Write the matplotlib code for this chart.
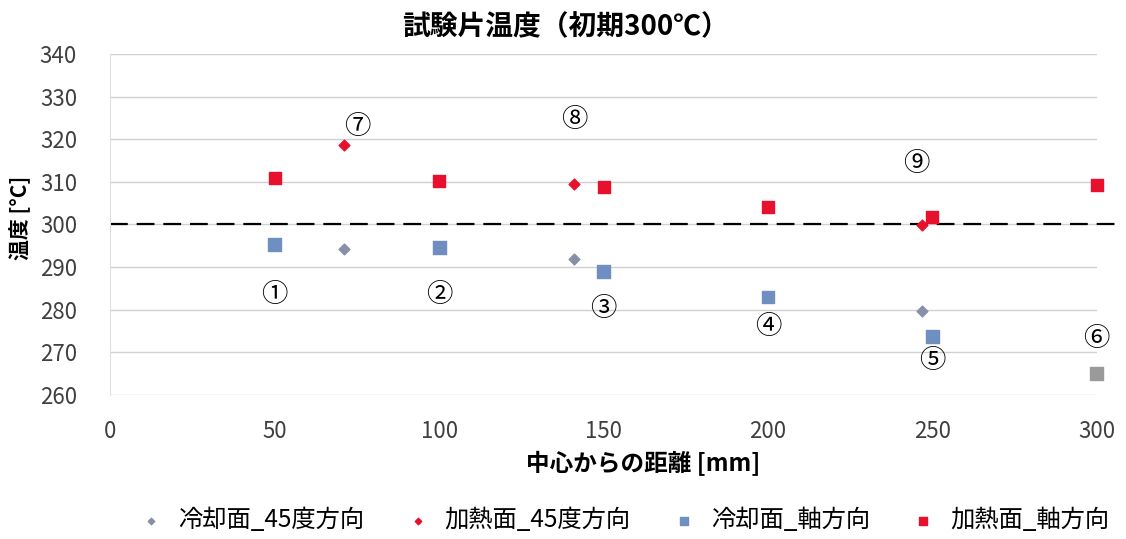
import matplotlib
matplotlib.use("Agg")
import matplotlib.pyplot as plt

plt.rcParams['font.family'] = ['Noto Sans CJK JP', 'DejaVu Sans']

# data
cool45_x = [71, 141, 247]
cool45_y = [294.3, 292.0, 279.6]
heat45_x = [71, 141, 247]
heat45_y = [318.6, 309.4, 299.8]
cool_ax_x = [50, 100, 150, 200, 250, 300]
cool_ax_y = [295.3, 294.6, 289.0, 283.0, 273.8, 265.0]
cool_ax_colors = ["#6f8fc0", "#6f8fc0", "#6f8fc0", "#6f8fc0", "#6f8fc0", "#9a9a9a"]
heat_ax_x = [50, 100, 150, 200, 250, 300]
heat_ax_y = [311.0, 310.3, 308.7, 304.0, 301.8, 309.2]

labels = ["①", "②", "③", "④", "⑤", "⑥", "⑦", "⑧", "⑨"]
label_x = [50, 100, 150, 200, 250, 300, 75, 141, 245]
label_y = [283.7, 283.7, 280.4, 276.0, 268.0, 273.3, 323.0, 324.7, 314.4]

fig = plt.figure(figsize=(11.26, 5.39), dpi=100)
ax = fig.add_axes([0.098, 0.267, 0.876, 0.633])

ax.scatter(cool45_x, cool45_y, marker="D", s=30, color="#8a8fa8", label="冷却面_45度方向", zorder=3, clip_on=False)
ax.scatter(heat45_x, heat45_y, marker="D", s=30, color="#e8112d", label="加熱面_45度方向", zorder=3, clip_on=False)
ax.scatter(cool_ax_x, cool_ax_y, marker="s", s=85, c=cool_ax_colors, label="冷却面_軸方向", zorder=3, clip_on=False)
ax.scatter(heat_ax_x, heat_ax_y, marker="s", s=85, color="#e8112d", label="加熱面_軸方向", zorder=3, clip_on=False)

ax.plot([0, 306], [300, 300], color="black", linestyle=(0, (8, 4)), linewidth=1.6, zorder=2, clip_on=False)

for t, x, y in zip(labels, label_x, label_y):
    ax.text(x, y, t, fontsize=19, ha="center", va="center")

ax.set_xlim(0, 300)
ax.set_ylim(260, 340)
ax.set_xticks(range(0, 301, 50))
ax.set_yticks(range(260, 341, 10))
ax.tick_params(labelsize=16, length=0, colors="#404040")
ax.tick_params(axis="x", pad=18)
ax.tick_params(axis="y", pad=24)
ax.grid(axis="y", color="#d0d0d0", linewidth=1)
ax.set_axisbelow(True)
for side in ["top", "right", "bottom"]:
    ax.spines[side].set_visible(False)
ax.spines["left"].set_color("#e0e0e0")
ax.spines["left"].set_bounds(260, 340)

fig.text(0.502, 0.95, "試験片温度（初期300℃）", fontsize=20, fontweight="bold", ha="center", va="center")
ax.set_xlabel("中心からの距離 [mm]", fontsize=17, fontweight="bold")
ax.xaxis.set_label_coords(0.54, -0.165)
ax.set_ylabel("温度 [°C]", fontsize=15, fontweight="bold")
ax.yaxis.set_label_coords(-0.08, 0.52)

leg = fig.legend(loc="center", ncol=4, frameon=False, fontsize=17.5,
                 bbox_to_anchor=(0.549, 0.035), handletextpad=0.1, columnspacing=1.2,
                 markerscale=0.6)

fig.savefig("out.png", dpi=100)
